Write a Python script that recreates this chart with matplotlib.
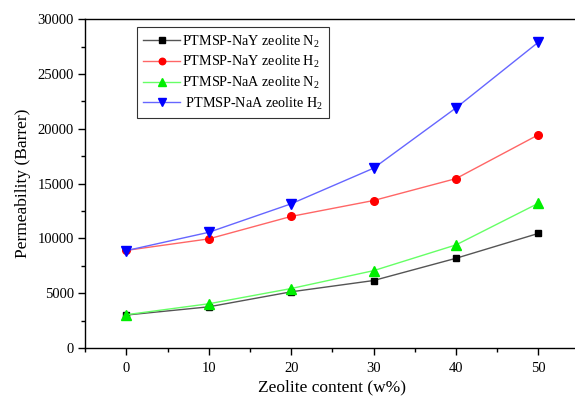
import numpy as np
import matplotlib
matplotlib.use('Agg')
import matplotlib.pyplot as plt
from matplotlib.ticker import MultipleLocator

plt.rcParams['font.family'] = 'Liberation Serif'
plt.rcParams['mathtext.fontset'] = 'custom'
plt.rcParams['mathtext.rm'] = 'Liberation Serif'

content = [0, 10, 20, 30, 40, 50]  # zeolite content (w%)
nay_n2 = [3000, 3750, 5120, 6150, 8180, 10450]
nay_h2 = [8900, 9950, 12000, 13450, 15450, 19450]
naa_n2 = [3030, 4030, 5420, 7050, 9400, 13200]
naa_h2 = [8880, 10550, 13150, 16400, 21900, 27900]

labels = [r'PTMSP-NaY zeolite N$_\mathregular{2}$',
          r'PTMSP-NaY zeolite H$_\mathregular{2}$',
          r'PTMSP-NaA zeolite N$_\mathregular{2}$',
          r' PTMSP-NaA zeolite H$_\mathregular{2}$']

fig = plt.figure(figsize=(5.75, 3.99), dpi=100)
ax = fig.add_axes([0.148, 0.128, 0.860, 0.824])

# light line colour, full marker colour (Origin style)
ax.plot(content, nay_n2, color='#555555', lw=1, marker='s', ms=5,
        mfc='black', mec='black', label=labels[0])
ax.plot(content, nay_h2, color='#ff6666', lw=1, marker='o', ms=5.5,
        mfc='red', mec='red', label=labels[1])
ax.plot(content, naa_n2, color='#66ff66', lw=1, marker='^', ms=6.5,
        mfc='#00ee00', mec='#00ee00', label=labels[2])
ax.plot(content, naa_h2, color='#6666ff', lw=1, marker='v', ms=6.5,
        mfc='blue', mec='blue', label=labels[3])

ax.set_xlim(-5, 55)
ax.set_ylim(0, 30000)
ax.xaxis.set_major_locator(MultipleLocator(10))
ax.xaxis.set_minor_locator(MultipleLocator(5))
ax.yaxis.set_major_locator(MultipleLocator(5000))
ax.yaxis.set_minor_locator(MultipleLocator(2500))
ax.tick_params(which='both', direction='out', labelsize=10.5, width=1)
ax.tick_params(which='major', length=5)
ax.tick_params(which='minor', length=3)
ax.tick_params(axis='x', pad=5)
ax.tick_params(axis='y', pad=3)

for s in ax.spines.values():
    s.set_linewidth(1)
ax.spines['right'].set_visible(False)

ax.set_xlabel('Zeolite content (w%)', fontsize=12.5, labelpad=3)
ax.set_ylabel('Permeability (Barrer)', fontsize=12.5, labelpad=5)

leg = ax.legend(loc='upper left', bbox_to_anchor=(0.105, 0.976), fontsize=10.2,
                frameon=True, fancybox=False, handlelength=2.6,
                labelspacing=0.3, borderpad=0.45, handletextpad=0.1,
                borderaxespad=0, markerscale=0.85)
leg.get_frame().set_edgecolor('black')
leg.get_frame().set_linewidth(0.8)

fig.savefig('out.png', dpi=100)
